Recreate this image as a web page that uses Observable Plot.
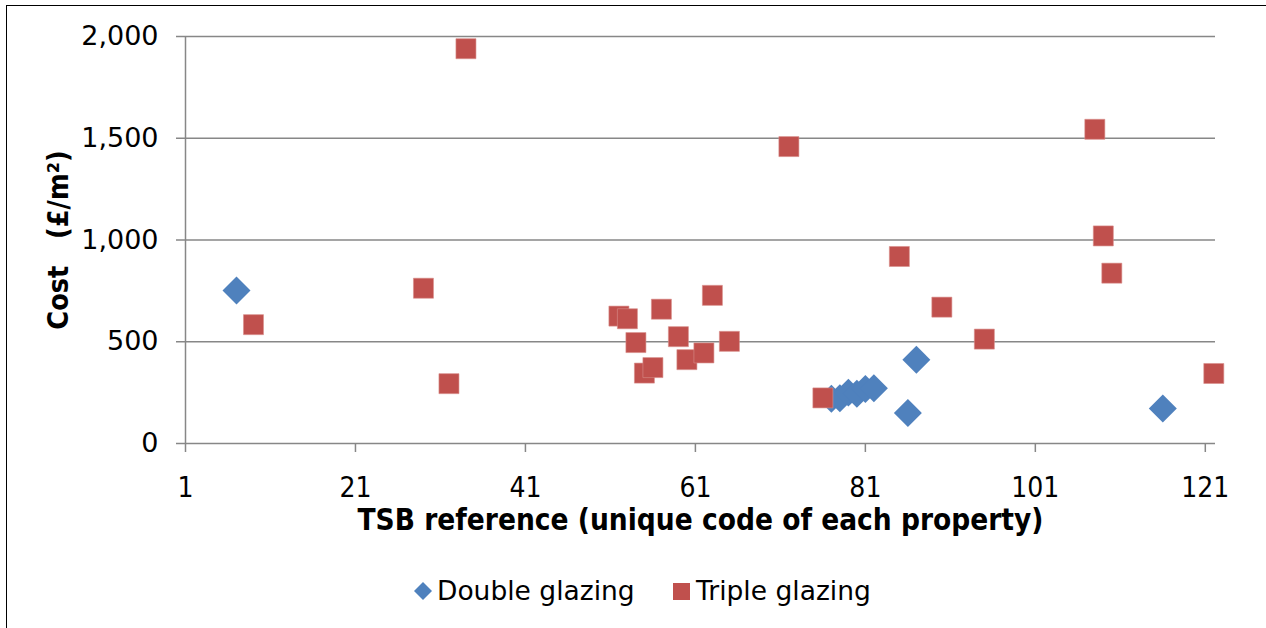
<!DOCTYPE html>
<html>
<head>
<meta charset="utf-8">
<script src="https://cdn.jsdelivr.net/npm/d3@7"></script>
<script src="https://cdn.jsdelivr.net/npm/@observablehq/plot@0.6"></script>
<style>
  body { margin: 0; background: #fff; width: 1266px; height: 628px; overflow: hidden; position: relative; font-family: "DejaVu Sans", sans-serif; }
  #frame { position: absolute; left: 6px; top: 5px; width: 1400px; height: 800px; border: 1.5px solid #000; box-sizing: border-box; }
  #chart { position: absolute; left: 0; top: 0; }
  .leg { position: absolute; font-family: "DejaVu Sans", sans-serif; font-size: 26.5px; line-height: 30px; color: #000; white-space: nowrap; }
  .legsym { position: absolute; }
</style>
</head>
<body>
<div id="frame"></div>
<div id="chart"></div>
<svg class="legsym" style="left:414px;top:582px" width="18" height="18"><polygon points="9,0 18,9 9,18 0,9" fill="#4F81BD"/></svg>
<div class="leg" style="left:437px;top:576px">Double glazing</div>
<svg class="legsym" style="left:673px;top:583px" width="17" height="17"><rect x="0" y="0" width="17" height="17" fill="#C0504D"/></svg>
<div class="leg" style="left:696px;top:576px">Triple glazing</div>
<script>
// ---- data ----
const doubleX = [7, 77, 78, 79, 80, 81, 82, 86, 87, 116];
const doubleY = [752, 220, 222, 250, 245, 268, 272, 150, 412, 172];

const tripleX = [9, 29, 32, 34, 52, 53, 54, 55, 56, 57, 59, 60, 62, 63, 65, 72, 76, 85, 90, 95, 108, 109, 110, 122];
const tripleY = [584, 763, 294, 1940, 626, 613, 496, 346, 373, 660, 525, 412, 445, 728, 502, 1459, 224, 919, 670, 513, 1544, 1020, 837, 344];

const xTicks = [1, 21, 41, 61, 81, 101, 121];
const yTicks = [0, 500, 1000, 1500, 2000];

const seriesNames = ["Double glazing", "Triple glazing"];
const xLabel = "TSB reference (unique code of each property)";
const yLabel = "Cost\u00a0\u00a0\u00a0(£/m²)";

const doubleData = doubleX.map((x, i) => ({x, y: doubleY[i], series: seriesNames[0]}));
const tripleData = tripleX.map((x, i) => ({x, y: tripleY[i], series: seriesNames[1]}));

const gridColor = "#878787";

const chart = Plot.plot({
  width: 1266,
  height: 560,
  marginLeft: 185,
  marginRight: 51,
  marginTop: 36,
  marginBottom: 117,
  x: {domain: [1, 122.2]},
  y: {domain: [0, 2000]},
  style: {background: "transparent", overflow: "visible", color: "#000"},
  marks: [
    Plot.ruleY(yTicks, {stroke: gridColor, strokeWidth: 1.5}),
    Plot.ruleX([1], {stroke: gridColor, strokeWidth: 1.5}),
    Plot.axisY({
      ticks: yTicks, tickSize: 9, tickPadding: 18, tickFormat: d3.format(","),
      stroke: gridColor, strokeWidth: 1.5, fill: "#000",
      fontFamily: "DejaVu Sans", fontSize: 27, label: null
    }),
    Plot.axisX({
      ticks: xTicks, tickSize: 9, tickPadding: 25, tickFormat: d => String(d),
      stroke: gridColor, strokeWidth: 1.5, fill: "#000",
      fontFamily: "DejaVu Sans Condensed", fontSize: 28, label: null
    }),
    Plot.text([yLabel], {
      text: d => d, frameAnchor: "left", dx: -127, rotate: -90, textAnchor: "middle",
      fontFamily: "DejaVu Sans Condensed", fontWeight: "bold", fontSize: 28.5, fill: "#000"
    }),
    Plot.text([xLabel], {
      text: d => d, frameAnchor: "bottom", dy: 86, textAnchor: "middle",
      fontFamily: "DejaVu Sans Condensed", fontWeight: "bold", fontSize: 29.5, fill: "#000"
    }),
    Plot.dot(doubleData, {x: "x", y: "y", symbol: "diamond2", r: 12.6, fill: "#4F81BD"}),
    Plot.dot(tripleData, {x: "x", y: "y", symbol: "square", r: 11.3, fill: "#C0504D", stroke: "#D98E8C", strokeWidth: 0.6})
  ]
});
document.getElementById("chart").appendChild(chart);
</script>
</body>
</html>
